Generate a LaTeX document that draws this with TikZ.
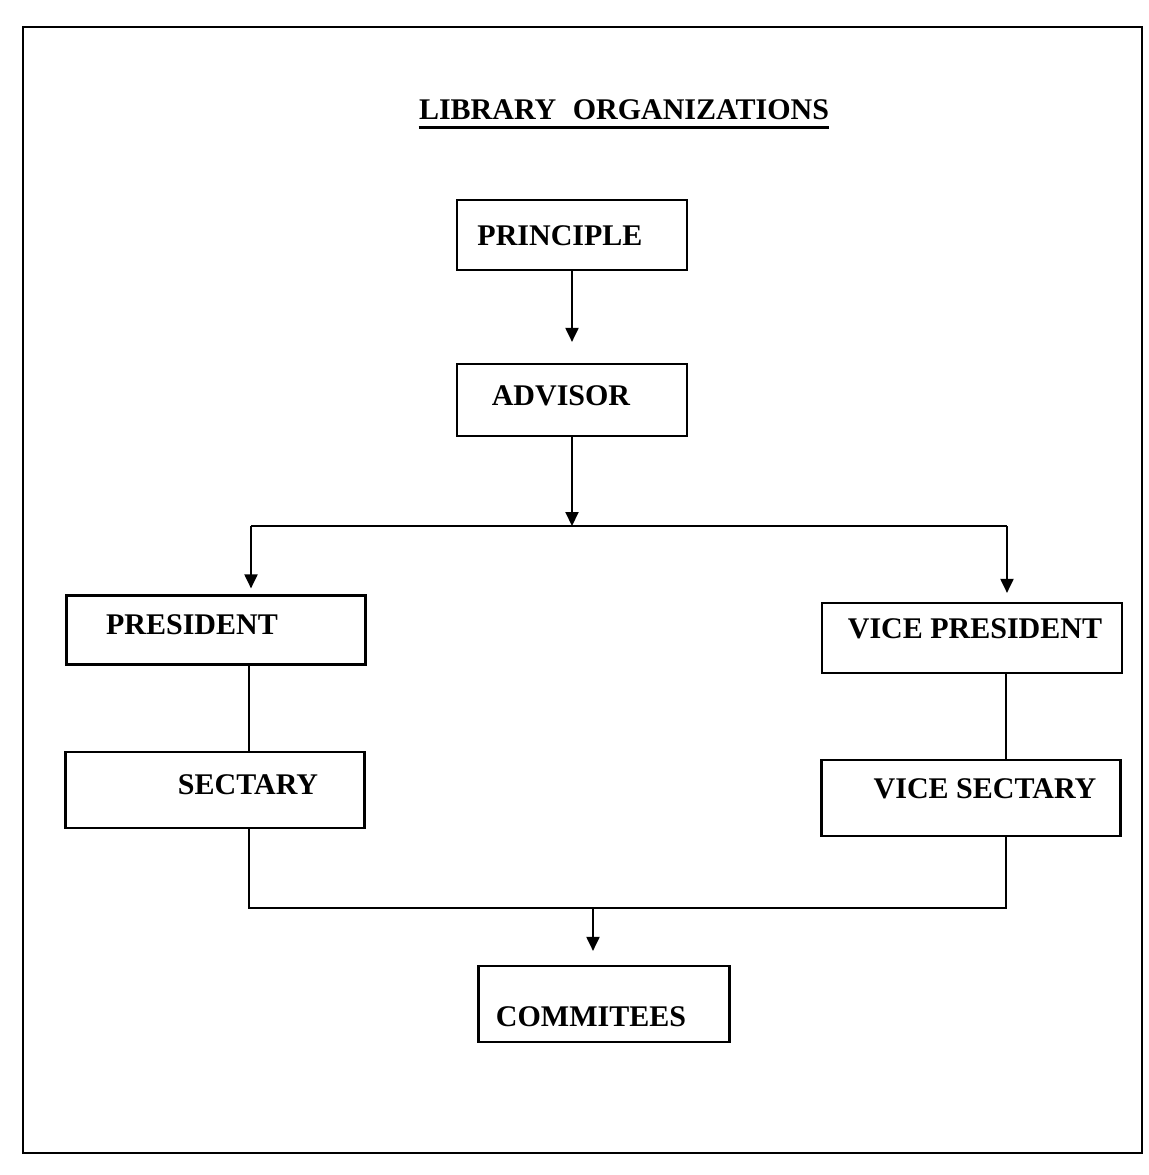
\documentclass[tikz,border=0pt]{standalone}
\usepackage{fontspec}
\setmainfont{Liberation Serif}
\usetikzlibrary{arrows.meta}
\begin{document}
\begin{tikzpicture}[x=0.5pt,y=-0.5pt,
  box/.style={draw, line width=1.1pt, rectangle, inner sep=0pt},
  lbl/.style={inner sep=0pt, font=\fontsize{15}{18}\selectfont\bfseries, text height=10pt, text depth=0pt},
  conn/.style={line width=1pt},
  arr/.style={line width=1pt, -{Triangle[length=7pt,width=6.5pt]}}]
\useasboundingbox (0,0) rectangle (1149,1175);
\draw[line width=1pt] (23,27) rectangle (1142,1153);

% title
\node[lbl] (title) at (624,109) {LIBRARY\hspace{0.55em}ORGANIZATIONS};
\draw[line width=1.3pt] ([yshift=-4pt]title.south west) -- ([yshift=-4pt]title.south east);

% boxes
\node[box, minimum width=115pt, minimum height=35pt] (princ) at (572,235) {};
\node[lbl] (princ-t) at (560,235) {PRINCIPLE};
\node[box, minimum width=115pt, minimum height=36pt] (adv) at (572,400) {};
\node[lbl] (adv-t) at (561,395) {ADVISOR};
\node[box, minimum width=149.5pt, minimum height=34.5pt] (pres) at (216,630) {};
\node[lbl] (pres-t) at (192,624) {PRESIDENT};
\node[box, minimum width=150pt, minimum height=35pt] (vp) at (972,638) {};
\node[lbl] (vp-t) at (975,628) {VICE PRESIDENT};
\node[box, minimum width=149.5pt, minimum height=38pt] (sec) at (215,790) {};
\node[lbl] (sec-t) at (248,784) {SECTARY};
\node[box, minimum width=149.5pt, minimum height=38pt] (vs) at (971,798) {};
\node[lbl] (vs-t) at (985,788) {VICE SECTARY};
\node[box, minimum width=125.5pt, minimum height=38pt] (com) at (604,1004) {};
\node[lbl] (com-t) at (591,1016) {COMMITEES};

% connectors
\draw[arr, shorten >=10.5pt] (princ) -- (adv);
\coordinate (j) at (572,526);
\coordinate (jl) at (251,526);
\coordinate (jr) at (1007,526);
\draw[arr] (adv.south) -- (j);
\draw[conn] (jl) -- (jr);
\draw[arr, shorten >=3pt] (jl) -- (jl |- pres.north);
\draw[arr, shorten >=4.5pt] (jr) -- (jr |- vp.north);

\coordinate (ps) at (249,700);
\coordinate (vps) at (1006,700);
\draw[conn] (ps |- pres.south) -- (ps |- sec.north);
\draw[conn] (vps |- vp.south) -- (vps |- vs.north);

\coordinate (bl) at (249,908);
\coordinate (br) at (1006,908);
\coordinate (bm) at (593,908);
\draw[conn] (bl |- sec.south) -- (bl) -- (br) -- (br |- vs.south);
\draw[arr, shorten >=7pt] (bm) -- (bm |- com.north);
\end{tikzpicture}
\end{document}
